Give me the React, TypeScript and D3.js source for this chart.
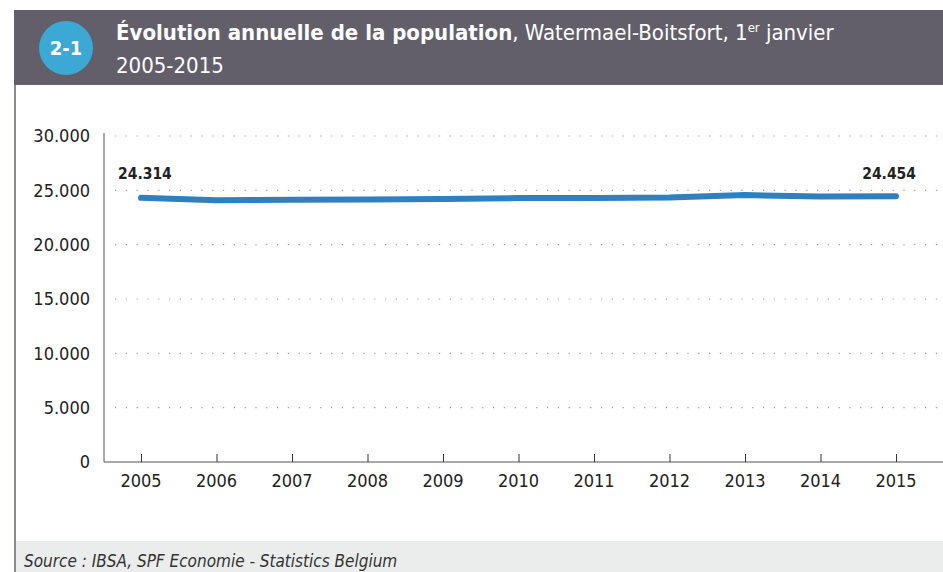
import { useEffect, useRef } from 'react';
import * as d3 from 'd3';

const years = ['2005', '2006', '2007', '2008', '2009', '2010', '2011', '2012', '2013', '2014', '2015'];
const population = [24314, 24090, 24130, 24160, 24200, 24290, 24300, 24330, 24560, 24430, 24454];
const yTicks = [0, 5000, 10000, 15000, 20000, 25000, 30000];

const W = 943;
const H = 572;
const FONT = '"Liberation Sans Narrow", "DejaVu Sans Condensed", "Open Sans", sans-serif';

export default function App() {
  const svgRef = useRef<SVGSVGElement>(null);

  useEffect(() => {
    if (!svgRef.current) return;
    const svg = d3.select(svgRef.current);
    svg.selectAll('*').remove();

    // frame: left border, header band, footer band
    svg.append('rect').attr('x', 14).attr('y', 10).attr('width', W - 14).attr('height', 75).attr('fill', '#625f6b');
    svg.append('rect').attr('x', 14).attr('y', 541).attr('width', W - 14).attr('height', H - 541).attr('fill', '#ebecec');
    svg.append('line').attr('x1', 15).attr('x2', 15).attr('y1', 85).attr('y2', H)
      .attr('stroke', '#8d8b92').attr('stroke-width', 2);

    svg.append('circle').attr('cx', 66).attr('cy', 48).attr('r', 27).attr('fill', '#3ba9d4');
    svg.append('text').attr('x', 66).attr('y', 55).attr('text-anchor', 'middle')
      .attr('fill', '#fff').style('font-family', FONT).style('font-weight', 'bold').style('font-size', '20px')
      .text('2-1');

    const title = svg.append('text').attr('x', 116).attr('y', 40).attr('fill', '#fff')
      .style('font-family', FONT).style('font-size', '22px');
    title.append('tspan').style('font-weight', 'bold').text('Évolution annuelle de la population');
    title.append('tspan').text(', Watermael-Boitsfort, 1');
    title.append('tspan').attr('dy', -8).style('font-size', '13px').text('er');
    title.append('tspan').attr('dy', 8).text(' janvier');
    svg.append('text').attr('x', 116).attr('y', 73).attr('fill', '#fff')
      .style('font-family', FONT).style('font-size', '22px').text('2005-2015');

    // chart
    const x = d3.scalePoint<string>().domain(years).range([141, 896]);
    const y = d3.scaleLinear().domain([0, 30000]).range([462, 136]);
    const fmt = (v: number) => d3.format(',')(v).replace(/,/g, '.');

    const grid = svg.append('g');
    yTicks.filter(t => t > 0).forEach(t => {
      grid.append('line').attr('x1', 115).attr('x2', W).attr('y1', y(t)).attr('y2', y(t))
        .attr('stroke', '#9a9a9a').attr('stroke-width', 1.2).attr('stroke-dasharray', '1.2 9.6');
    });

    const yAxis = svg.append('g').attr('transform', 'translate(104,0)')
      .call(d3.axisLeft(y).tickValues(yTicks).tickSize(0).tickPadding(14).tickFormat(d => fmt(+d)));
    yAxis.select('.domain').attr('stroke', '#555').attr('d', `M0,${y(30000) - 3}V${y(0)}`);
    yAxis.selectAll('text').style('font-family', FONT).style('font-size', '18px').attr('fill', '#222');

    const xAxis = svg.append('g').attr('transform', 'translate(0,462)')
      .call(d3.axisTop(x).tickSize(8).tickFormat(() => ''));
    xAxis.select('.domain').attr('stroke', '#555').attr('d', `M104,0H${W}`);
    xAxis.selectAll('.tick line').attr('stroke', '#333');
    years.forEach(yr => {
      svg.append('text').attr('x', x(yr)!).attr('y', 487).attr('text-anchor', 'middle')
        .style('font-family', FONT).style('font-size', '18px').attr('fill', '#222').text(yr);
    });

    const line = d3.line<number>().x((_, i) => x(years[i])!).y(d => y(d));
    svg.append('path').datum(population).attr('d', line).attr('fill', 'none')
      .attr('stroke', '#2f80c0').attr('stroke-width', 6).attr('stroke-linecap', 'round').attr('stroke-linejoin', 'round');

    const last = population.length - 1;
    svg.append('text').attr('x', x(years[0])! - 23).attr('y', 179)
      .style('font-family', FONT).style('font-weight', 'bold').style('font-size', '15.5px').attr('fill', '#222')
      .text(fmt(population[0]));
    svg.append('text').attr('x', x(years[last])! + 20).attr('y', 179).attr('text-anchor', 'end')
      .style('font-family', FONT).style('font-weight', 'bold').style('font-size', '15.5px').attr('fill', '#222')
      .text(fmt(population[last]));

    svg.append('text').attr('x', 24).attr('y', 567).attr('fill', '#333')
      .style('font-family', FONT).style('font-style', 'italic').style('font-size', '17px')
      .text('Source : IBSA, SPF Economie - Statistics Belgium');
  }, []);

  return (
    <div style={{ position: 'absolute', left: 0, top: 0 }}>
      <svg ref={svgRef} width={W} height={H} style={{ display: 'block', background: '#fff' }} />
    </div>
  );
}
